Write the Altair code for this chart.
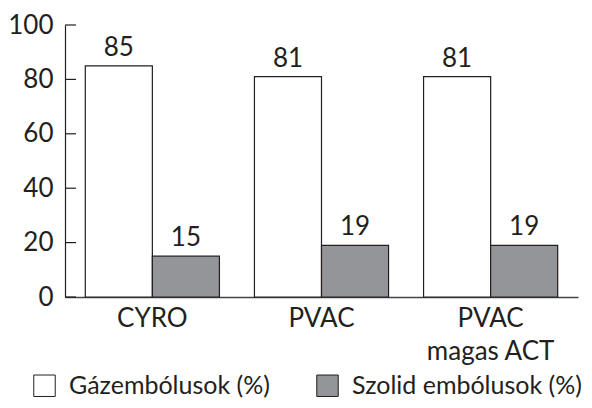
import altair as alt
import pandas as pd

categories = ["CYRO", "PVAC", "PVAC magas ACT"]
series = ["Gázembólusok (%)", "Szolid embólusok (%)"]
gas_values = [85, 81, 81]
solid_values = [15, 19, 19]
y_ticks = [0, 20, 40, 60, 80, 100]

rows = []
for c, g, s in zip(categories, gas_values, solid_values):
    rows.append({"cat": c, "series": series[0], "value": g})
    rows.append({"cat": c, "series": series[1], "value": s})
df = pd.DataFrame(rows)
ticks_df = pd.DataFrame({"t": y_ticks})

FONT = "Lato"
INK = "#231f20"
FS = 26

x = alt.X("cat:N", sort=categories, title=None,
          scale=alt.Scale(paddingInner=0.207, paddingOuter=0.12),
          axis=alt.Axis(labelAngle=0, ticks=False, tickSize=0, labelPadding=8,
                        labelFontSize=FS, labelFont=FONT, labelColor=INK,
                        labelLineHeight=33, domainColor="#444444", domainWidth=1.5,
                        labelExpr="datum.label == 'PVAC magas ACT' ? ['PVAC', 'magas ACT'] : datum.label"))
y = alt.Y("value:Q", title=None,
          scale=alt.Scale(domain=[0, 100], nice=False),
          axis=alt.Axis(values=y_ticks, ticks=False, tickSize=0, labelPadding=12, grid=False,
                        labelFontSize=FS, labelFont=FONT, labelColor=INK,
                        domainColor=INK, domainWidth=1.2))
xo = alt.XOffset("series:N", sort=series)

bars = alt.Chart(df).mark_bar(stroke=INK, strokeWidth=1.2).encode(
    x=x, y=y, xOffset=xo,
    fill=alt.Fill("series:N", sort=series,
                  scale=alt.Scale(domain=series, range=["#ffffff", "#939598"]),
                  legend=alt.Legend(title=None, orient="none", direction="horizontal",
                                    legendX=-33, legendY=348, padding=0,
                                    symbolType="square", symbolSize=460,
                                    symbolStrokeColor=INK, symbolStrokeWidth=1,
                                    labelFontSize=25, labelFont=FONT, labelColor=INK,
                                    labelOffset=12, columnPadding=44, labelLimit=400))
)

labels = alt.Chart(df).mark_text(baseline="bottom", dy=-5, fontSize=FS, font=FONT, color=INK).encode(
    x=x, y=y, xOffset=xo, text="value:Q"
)

tick_marks = alt.Chart(ticks_df).mark_rule(color=INK, strokeWidth=1.2).encode(
    y=alt.Y("t:Q"), x=alt.value(0), x2=alt.value(11)
)

chart = alt.layer(bars, labels, tick_marks).properties(
    width=513, height=272,
    autosize=alt.AutoSizeParams(type="none"),
    padding={"left": 57, "top": 17, "right": 6, "bottom": 103},
).configure_view(stroke=None)

chart.save("out.html", embed_options={"renderer": "svg", "actions": False})
